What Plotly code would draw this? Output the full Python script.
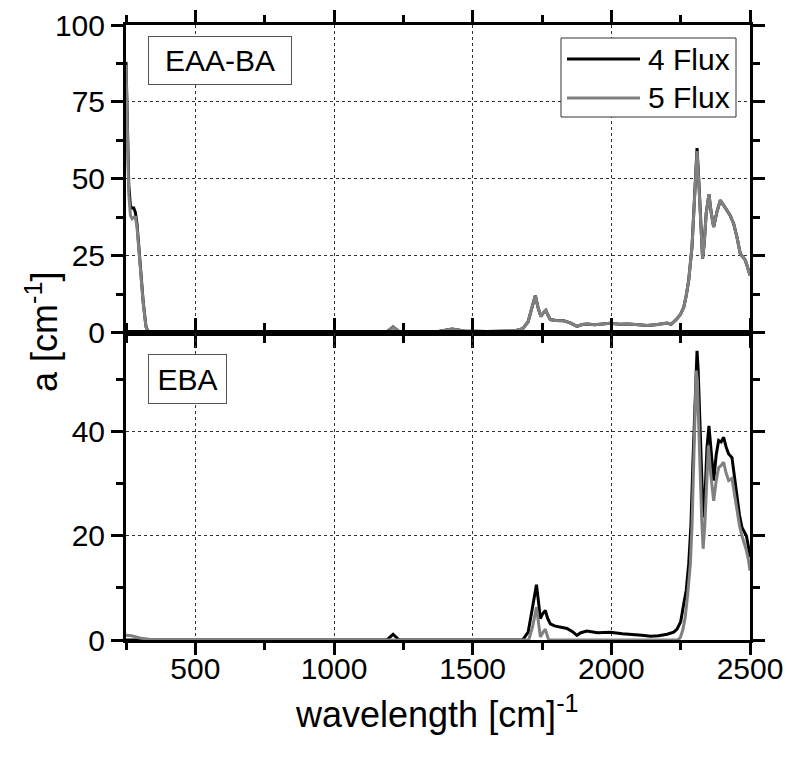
import plotly.graph_objects as go
from plotly.subplots import make_subplots

# ---------------- data ----------------
# Top panel: EAA-BA
top_x = [250, 255, 260, 266, 272, 278, 284, 290, 300, 312, 322, 330, 345, 400, 600, 1000, 1150, 1190, 1213,
         1235, 1280, 1380, 1426, 1470, 1550, 1650, 1680, 1700, 1715, 1726, 1736, 1746, 1756, 1764, 1772, 1780,
         1800, 1828, 1850, 1876, 1895, 1912, 1940, 1970, 1996, 2030, 2060, 2100, 2128, 2160, 2190, 2201, 2215,
         2237, 2250, 2261, 2270, 2279, 2291, 2299, 2305, 2309, 2314, 2321, 2329, 2335, 2342, 2352, 2360, 2369,
         2380, 2393, 2405, 2417, 2429, 2441, 2453, 2465, 2475, 2483, 2492, 2500]
top_4flux = [88, 68, 48, 41, 40.5, 40.5, 39, 35, 23, 10, 2, 0, 0, 0, 0, 0, 0, 0.2, 1.8,
             0.3, 0.1, 0.4, 1.1, 0.5, 0.3, 0.5, 1.2, 3.5, 8.5, 12, 8, 5.2, 6.5, 7.2, 5.5, 4.2,
             3.9, 3.8, 3.2, 2.0, 2.6, 2.8, 2.5, 2.9, 3.0, 2.7, 2.8, 2.5, 2.3, 2.5, 2.8, 3.1, 2.6,
             4.5, 6.0, 8.2, 12, 17, 28, 44, 56, 60, 52, 38.5, 24, 29, 38.7, 45, 39, 34.3,
             39, 43, 41.5, 39.7, 38, 35.4, 31, 25.6, 24.5, 23.5, 21, 18.6]
top_5flux = [87, 66, 45, 38, 37, 37.5, 37.5, 34, 22.5, 9.5, 1.8, 0, 0, 0, 0, 0, 0, 0.2, 1.8,
             0.3, 0.1, 0.4, 1.1, 0.5, 0.3, 0.5, 1.2, 3.5, 8.5, 12, 8, 5.2, 6.5, 7.2, 5.5, 4.2,
             3.9, 3.8, 3.2, 2.0, 2.6, 2.8, 2.5, 2.9, 3.0, 2.7, 2.8, 2.5, 2.3, 2.5, 2.8, 3.1, 2.6,
             4.5, 6.0, 8.2, 12, 17, 28, 44, 55, 59, 51, 38.5, 24, 29, 38.7, 45, 39, 34.3,
             39, 43, 41.5, 39.7, 38, 35.4, 31, 25.6, 24.5, 23.5, 21, 18.6]

# Bottom panel: EBA
bot4_x = [250, 1190, 1213, 1235, 1680, 1700, 1714, 1730, 1737, 1744, 1752, 1762, 1770, 1780, 1795, 1810,
          1840, 1860, 1876, 1890, 1912, 1950, 1996, 2040, 2080, 2110, 2141, 2170, 2201, 2225, 2237, 2250,
          2261, 2270, 2279, 2287, 2294, 2302, 2309, 2313, 2318, 2325, 2331, 2338, 2345, 2352, 2360, 2369,
          2378, 2387, 2396, 2405, 2414, 2423, 2435, 2444, 2453, 2462, 2471, 2480, 2487, 2494, 2500]
bot_4flux = [0, 0, 1.1, 0, 0, 1.5, 5.7, 10.6, 7.5, 4.1, 5.0, 5.7, 4.2, 3.1, 2.7, 2.5,
             2.2, 1.6, 0.9, 1.4, 1.7, 1.4, 1.5, 1.2, 1.1, 0.9, 0.7, 0.8, 1.1, 1.5, 2.1, 3.5,
             6.9, 9.5, 14.6, 22, 33.8, 47, 55.5, 52, 43.4, 30, 23.5, 28, 37, 41.1, 36, 30.6,
             35.5, 38.3, 38, 38.9, 37, 35.7, 35, 31, 27.4, 24, 21.6, 20.5, 20, 18, 15.9]
bot5_x = [250, 270, 300, 330, 350, 1702, 1716, 1730, 1737, 1744, 1754, 1762, 1768, 1774, 2240, 2249,
          2258, 2266, 2275, 2285, 2291, 2297, 2302, 2306, 2310, 2315, 2320, 2326, 2331, 2337, 2344, 2350,
          2358, 2369, 2378, 2387, 2396, 2405, 2414, 2423, 2435, 2444, 2453, 2462, 2471, 2480, 2487, 2494, 2500]
bot_5flux = [0.9, 0.8, 0.4, 0.1, 0, 0, 2.5, 6.3, 3.0, 0.6, 1.5, 2.1, 1.0, 0, 0, 0.5,
             2.0, 4.2, 8.5, 14.6, 22, 33.8, 44, 51.7, 50, 43, 33, 23, 17.5, 22, 32, 37.3,
             32, 26.7, 30.5, 33.1, 33.5, 34.1, 32, 30.6, 31, 28, 24.8, 22, 20, 18.5, 17.2, 15.5, 13.3]

series_names = ["4 Flux", "5 Flux"]
series_colors = ["#000000", "#808080"]
panel_labels = ["EAA-BA", "EBA"]
x_range = [250, 2500]
top_range = [0, 100]
bot_range = [0, 59]

# ---------------- figure ----------------
W, H = 787, 758
ML, MR, MT, MB = 126, 37, 25, 118
PW, PH = W - ML - MR, H - MT - MB

def px2x(px):
    return (px - ML) / PW

def py2y(py):
    return (H - MB - py) / PH

FONT = "Liberation Sans, Arial, sans-serif"
LW = 3

fig = make_subplots(rows=2, cols=1, shared_xaxes=True, vertical_spacing=0)

fig.add_trace(go.Scatter(x=top_x, y=top_4flux, mode="lines", name=series_names[0],
                         line=dict(color=series_colors[0], width=LW), showlegend=False), row=1, col=1)
fig.add_trace(go.Scatter(x=top_x, y=top_5flux, mode="lines", name=series_names[1],
                         line=dict(color=series_colors[1], width=LW), showlegend=False), row=1, col=1)
fig.add_trace(go.Scatter(x=bot4_x, y=bot_4flux, mode="lines", name=series_names[0],
                         line=dict(color=series_colors[0], width=LW), showlegend=False), row=2, col=1)
fig.add_trace(go.Scatter(x=bot5_x, y=bot_5flux, mode="lines", name=series_names[1],
                         line=dict(color=series_colors[1], width=LW), showlegend=False), row=2, col=1)

axis_common = dict(
    showline=True, linecolor="black", linewidth=3, mirror="ticks",
    ticks="outside", ticklen=12, tickwidth=2.5, tickcolor="black",
    showgrid=True, gridcolor="#333333", griddash="dot", gridwidth=1,
    zeroline=False, tickfont=dict(family=FONT, size=30, color="black"),
    automargin=False,
)

fig.update_xaxes(range=x_range, dtick=500, tick0=0, ticklabelstandoff=-12,
                 minor=dict(dtick=250, tick0=0, ticks="outside", ticklen=7, tickwidth=2.5,
                            tickcolor="black", showgrid=False),
                 **axis_common)
fig.update_xaxes(showticklabels=False, row=1, col=1)
fig.update_yaxes(range=top_range, dtick=25, tick0=0,
                 minor=dict(dtick=12.5, tick0=0, ticks="outside", ticklen=7, tickwidth=2.5,
                            tickcolor="black", showgrid=False),
                 row=1, col=1, **axis_common)
fig.update_yaxes(range=bot_range, dtick=20, tick0=0,
                 minor=dict(dtick=10, tick0=0, ticks="outside", ticklen=7, tickwidth=2.5,
                            tickcolor="black", showgrid=False),
                 row=2, col=1, **axis_common)

annotations = [
    dict(text="a [cm<sup>-1</sup>]", xref="paper", yref="paper", x=px2x(42), y=py2y(332),
         textangle=-90, showarrow=False, font=dict(family=FONT, size=36, color="black"),
         xanchor="center", yanchor="middle"),
    dict(text="wavelength [cm]<sup>-1</sup>", xref="paper", yref="paper", x=px2x(437), y=py2y(712),
         showarrow=False, font=dict(family=FONT, size=36, color="black"),
         xanchor="center", yanchor="middle"),
    dict(text=panel_labels[0], xref="paper", yref="paper", x=px2x(220), y=py2y(60.5),
         showarrow=False, font=dict(family=FONT, size=30, color="black"),
         width=140, height=45, bordercolor="#555555", borderwidth=1, bgcolor="white",
         xanchor="center", yanchor="middle"),
    dict(text=panel_labels[1], xref="paper", yref="paper", x=px2x(187), y=py2y(379),
         showarrow=False, font=dict(family=FONT, size=30, color="black"),
         width=75, height=46, bordercolor="#555555", borderwidth=1, bgcolor="white",
         xanchor="center", yanchor="middle"),
]

# manual legend
leg_rows = [59, 98]
for i, name in enumerate(series_names):
    annotations.append(dict(text=name, xref="paper", yref="paper", x=px2x(646), y=py2y(leg_rows[i]),
                            showarrow=False, font=dict(family=FONT, size=30, color="black"),
                            xanchor="left", yanchor="middle"))

shapes = [dict(type="rect", xref="paper", yref="paper", x0=px2x(561), x1=px2x(736),
               y0=py2y(117), y1=py2y(38), line=dict(color="#333333", width=1), fillcolor="white",
               layer="above")]
for i, c in enumerate(series_colors):
    shapes.append(dict(type="line", xref="paper", yref="paper", x0=px2x(567), x1=px2x(640),
                       y0=py2y(leg_rows[i]), y1=py2y(leg_rows[i]), line=dict(color=c, width=LW),
                       layer="above"))

fig.update_layout(
    width=W, height=H,
    margin=dict(l=ML, r=MR, t=MT, b=MB),
    plot_bgcolor="white", paper_bgcolor="white",
    showlegend=False,
    annotations=annotations,
    shapes=shapes,
    font=dict(family=FONT, color="black"),
)

fig.write_html("out.html")
